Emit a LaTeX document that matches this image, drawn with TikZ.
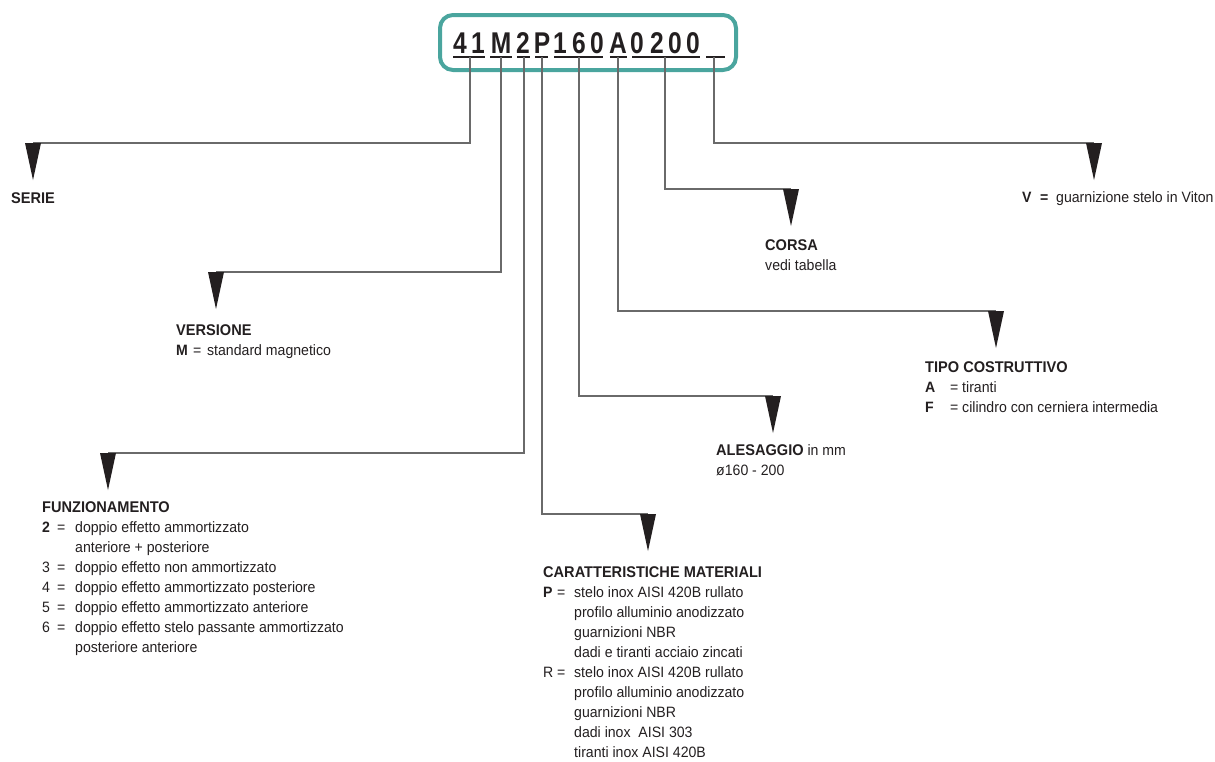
\documentclass[tikz,border=0pt]{standalone}
\usepackage{fontspec}
\setmainfont[FakeStretch=0.94]{Liberation Sans}
\newfontfamily\codefont[FakeStretch=0.82]{Liberation Sans}
\definecolor{boxteal}{HTML}{4AA59E}
\definecolor{ink}{HTML}{231F20}
\definecolor{wirecol}{HTML}{6A6A6A}
\tikzset{
  wire/.style={draw=wirecol, line width=1.3pt},
  uline/.style={draw=ink, line width=1.3pt},
  pointer/.style={fill=ink},
  lbl/.style={anchor=north west, inner sep=0pt, align=left, text=ink,
    font=\fontsize{15}{20}\selectfont},
  codechar/.style={inner sep=0pt, anchor=base, text=ink,
    font=\codefont\bfseries\fontsize{30}{30}\selectfont},
}
\newcommand{\head}[1]{{\fontsize{15.5}{20}\selectfont\bfseries #1}}
\newcommand{\keyed}[3]{\makebox[#1][l]{#2}\makebox[#3][l]{=}}
\newcommand{\tippath}[1]{\fill[pointer] (#1) ++(-8,0) -- ++(16,0) -- ++(-8,37) -- cycle;}
\begin{document}
\begin{tikzpicture}[x=1pt, y=-1pt]
\useasboundingbox (0,0) rectangle (1215,761);

% Code box
\draw[boxteal, line width=4pt, rounded corners=13pt] (440,15) rectangle (736,70);
\foreach \ch/\xx in {4/460, 1/478, M/501, 2/523, P/542, 1/560, 6/579, 0/597,
                     A/618, 0/637, 2/657, 0/675, 0/693}
  \node[codechar] at (\xx,53) {\ch};

% Underlines of the code fields
\draw[uline] (453,57) -- (485,57);
\draw[uline] (490,57) -- (512,57);
\draw[uline] (517,57) -- (530,57);
\draw[uline] (535,57) -- (548,57);
\draw[uline] (554,57) -- (603,57);
\draw[uline] (610,57) -- (627,57);
\draw[uline] (632,57) -- (700,57);
\draw[uline] (706,57) -- (725,57);

% Field ticks
\coordinate (serie-t) at (470,57);
\coordinate (vers-t) at (501,57);
\coordinate (funz-t) at (524,57);
\coordinate (car-t) at (542,57);
\coordinate (ales-t) at (579,57);
\coordinate (tipo-t) at (618,57);
\coordinate (corsa-t) at (665,57);
\coordinate (viton-t) at (714,57);

% Pointer tops
\coordinate (serie-a) at (33,143);
\coordinate (vers-a) at (216,272);
\coordinate (funz-a) at (108,453);
\coordinate (car-a) at (648,514);
\coordinate (ales-a) at (773,396);
\coordinate (tipo-a) at (996,311);
\coordinate (corsa-a) at (791,189);
\coordinate (viton-a) at (1094,143);

% Connectors
\draw[wire] (serie-t) |- (serie-a);
\draw[wire] (vers-t) |- (vers-a);
\draw[wire] (funz-t) |- (funz-a);
\draw[wire] (car-t) |- (car-a);
\draw[wire] (ales-t) |- (ales-a);
\draw[wire] (tipo-t) |- (tipo-a);
\draw[wire] (corsa-t) |- (corsa-a);
\draw[wire] (viton-t) |- (viton-a);

% Pointers
\tippath{serie-a}
\tippath{vers-a}
\tippath{funz-a}
\tippath{car-a}
\tippath{ales-a}
\tippath{tipo-a}
\tippath{corsa-a}
\tippath{viton-a}

% Labels
\node[lbl] (serie) at (11,192.5) {\head{SERIE}};
\node[lbl] (vers) at (176,324.5) {\head{VERSIONE}\\
  \keyed{17pt}{\textbf{M}}{14pt}standard magnetico};
\node[lbl] (funz) at (42,501.5) {\head{FUNZIONAMENTO}\\
  \keyed{15pt}{\textbf{2}}{18pt}doppio effetto ammortizzato\\
  \hspace*{33pt}anteriore + posteriore\\
  \keyed{15pt}{3}{18pt}doppio effetto non ammortizzato\\
  \keyed{15pt}{4}{18pt}doppio effetto ammortizzato posteriore\\
  \keyed{15pt}{5}{18pt}doppio effetto ammortizzato anteriore\\
  \keyed{15pt}{6}{18pt}doppio effetto stelo passante ammortizzato\\
  \hspace*{33pt}posteriore anteriore};
\node[lbl] (car) at (543,566.5) {\head{CARATTERISTICHE MATERIALI}\\
  \keyed{14pt}{\textbf{P}}{17pt}stelo inox AISI 420B rullato\\
  \hspace*{31pt}profilo alluminio anodizzato\\
  \hspace*{31pt}guarnizioni NBR\\
  \hspace*{31pt}dadi e tiranti acciaio zincati\\
  \keyed{14pt}{R}{17pt}stelo inox AISI 420B rullato\\
  \hspace*{31pt}profilo alluminio anodizzato\\
  \hspace*{31pt}guarnizioni NBR\\
  \hspace*{31pt}dadi inox\ \ AISI 303\\
  \hspace*{31pt}tiranti inox AISI 420B};
\node[lbl] (ales) at (716,444.5) {\head{ALESAGGIO} in mm\\
  ø160 - 200};
\node[lbl] (tipo) at (925,361.5) {\head{TIPO COSTRUTTIVO}\\
  \keyed{25pt}{\textbf{A}}{12pt}tiranti\\
  \keyed{25pt}{\textbf{F}}{12pt}cilindro con cerniera intermedia};
\node[lbl] (corsa) at (765,239.5) {\head{CORSA}\\
  vedi tabella};
\node[lbl] (viton) at (1022,191.5) {\makebox[18pt][l]{\textbf{V}}\makebox[16pt][l]{\textbf{=}}guarnizione stelo in Viton};
\end{tikzpicture}
\end{document}
